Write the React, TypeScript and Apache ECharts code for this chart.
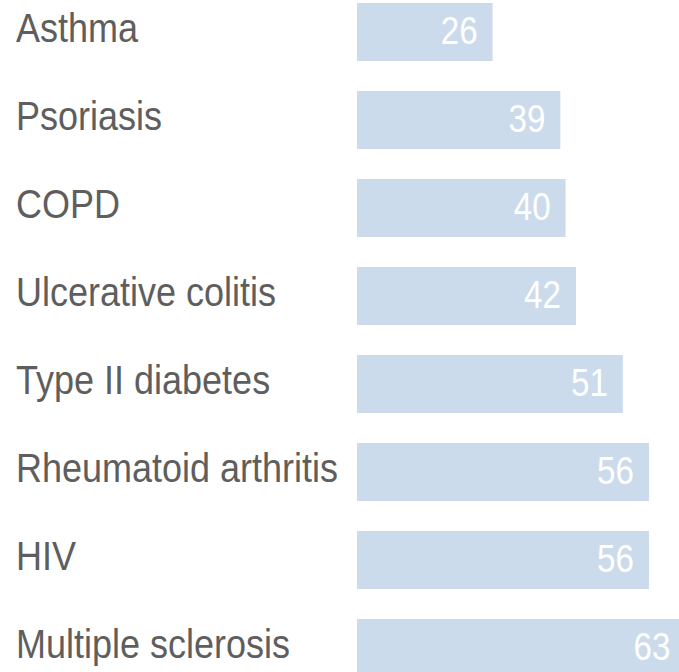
import React, { useEffect, useRef } from "react";
import * as echarts from "echarts";

const categories = [
  "Asthma",
  "Psoriasis",
  "COPD",
  "Ulcerative colitis",
  "Type II diabetes",
  "Rheumatoid arthritis",
  "HIV",
  "Multiple sclerosis",
];
const values = [26, 39, 40, 42, 51, 56, 56, 63];

const FONT = "'Liberation Sans', Arial, Helvetica, sans-serif";

export default function App() {
  const ref = useRef<HTMLDivElement>(null);
  useEffect(() => {
    if (!ref.current) return;
    const chart = echarts.init(ref.current, undefined, { renderer: "svg" });
    chart.setOption({
      animation: false,
      grid: { left: 357, right: 0, top: 0, bottom: 0, containLabel: false },
      xAxis: {
        type: "value",
        min: 0,
        max: 70,
        show: false,
      },
      yAxis: {
        type: "category",
        data: categories,
        inverse: true,
        axisLine: { show: false },
        axisTick: { show: false },
        splitLine: { show: false },
        axisLabel: { show: false },
      },
      series: [
        {
          type: "bar",
          data: values,
          barWidth: 58,
          z: 1,
          itemStyle: { color: "#ccdbeb" },
          silent: true,
        },
        {
          type: "custom",
          silent: true,
          clip: false,
          z: 5,
          data: categories.map((_, i) => [0, i]),
          encode: { x: 0, y: 1 },
          renderItem: (params: any, api: any) => {
            const p = api.coord([0, api.value(1)]);
            return {
              type: "text",
              x: p[0] - 341,
              y: p[1] - 4,
              scaleX: 0.9,
              style: {
                text: categories[params.dataIndex],
                fill: "#5e5e5e",
                font: `40px ${FONT}`,
                align: "left",
                verticalAlign: "middle",
              },
            };
          },
        },
        {
          type: "custom",
          silent: true,
          clip: false,
          z: 10,
          data: values.map((v, i) => [v, i]),
          encode: { x: 0, y: 1 },
          renderItem: (params: any, api: any) => {
            const p = api.coord([api.value(0), api.value(1)]);
            return {
              type: "text",
              x: p[0] - 15,
              y: p[1] - 1,
              scaleX: 0.85,
              z2: 100,
              style: {
                text: String(values[params.dataIndex]),
                fill: "#ffffff",
                font: `39px ${FONT}`,
                align: "right",
                verticalAlign: "middle",
              },
            };
          },
        },
      ],
    });
    return () => chart.dispose();
  }, []);
  return (
    <div
      style={{
        position: "fixed",
        left: 0,
        top: 0,
        width: 679,
        height: 672,
        overflow: "hidden",
        background: "#ffffff",
      }}
    >
      <div
        ref={ref}
        style={{ position: "absolute", left: 0, top: -12, width: 722, height: 704 }}
      />
    </div>
  );
}
